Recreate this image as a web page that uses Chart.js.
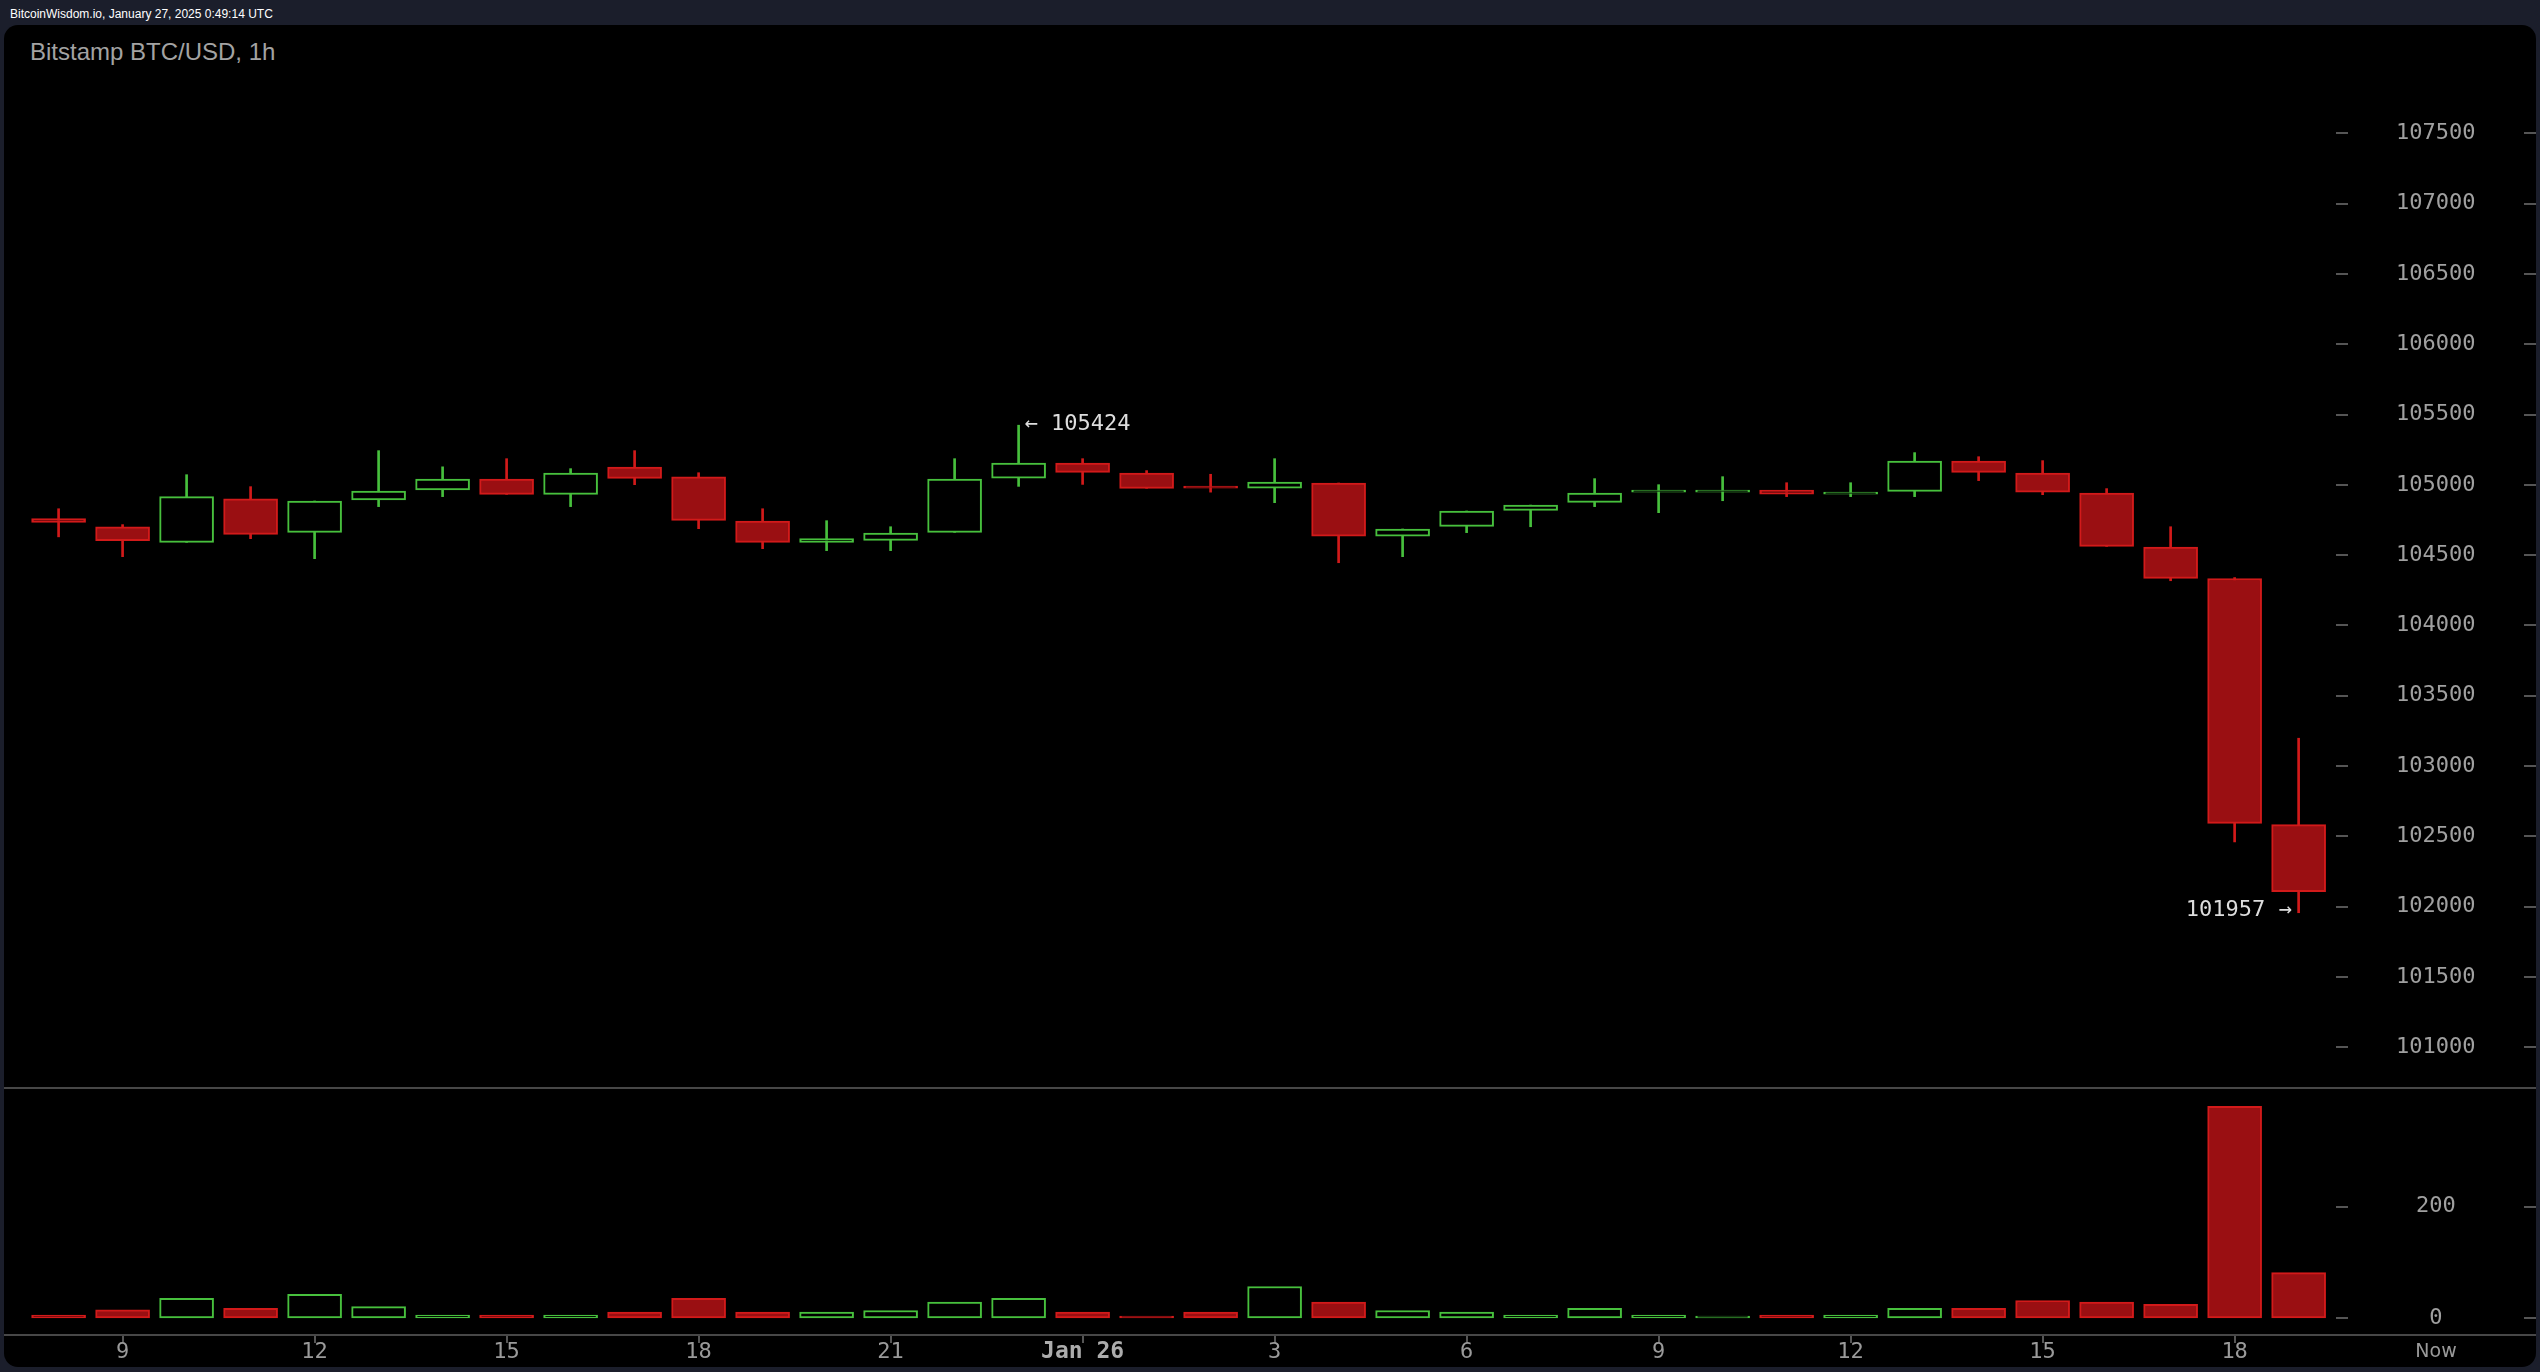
<!DOCTYPE html>
<html>
<head>
<meta charset="utf-8">
<title>Bitstamp BTC/USD, 1h</title>
<script src="https://cdn.jsdelivr.net/npm/chart.js@4.4.1/dist/chart.umd.min.js"></script>
<style>
	html, body { margin: 0; padding: 0; }
	body { width: 2540px; height: 1372px; background: #1b1e2b; position: relative; overflow: hidden; font-family: 'Liberation Sans', Arial, sans-serif; }
	#stamp { position: absolute; left: 10px; top: 8px; font-size: 12px; line-height: 12px; color: #fff; }
	#panel { position: absolute; left: 4px; top: 25px; width: 2532px; height: 1342px; background: #000; border-radius: 14px; }
	#title { position: absolute; left: 30px; top: 40px; font-size: 24px; line-height: 24px; color: #a3a3a3; }
	#wrap { position: absolute; left: 0; top: 0; width: 2540px; height: 1372px; }
</style>
</head>
<body>
<div id="stamp">BitcoinWisdom.io, January 27, 2025 0:49:14 UTC</div>
<div id="panel"></div>
<div id="title">Bitstamp BTC/USD, 1h</div>
<div id="wrap"><canvas id="btcChart"></canvas></div>
<script>
// hours relative to Jan 26 00:00 (UTC), one candle per hour
const hours = [-16, -15, -14, -13, -12, -11, -10, -9, -8, -7, -6, -5, -4, -3, -2, -1,
	0, 1, 2, 3, 4, 5, 6, 7, 8, 9, 10, 11, 12, 13, 14, 15, 16, 17, 18, 19];

const opens = [104760, 104702, 104591, 104901, 104662, 104892, 104963, 105041, 104932, 105127, 105056, 104743,
	104590, 104605, 104662, 105048, 105155, 105084, 104991, 104977, 105013, 104634, 104705, 104818,
	104875, 104948, 104948, 104962, 104934, 104953, 105169, 105084, 104942, 104557, 104334, 102583];
const highs = [104830, 104717, 105072, 104987, 104885, 105243, 105128, 105186, 105115, 105243, 105086, 104830,
	104745, 104702, 105186, 105424, 105186, 105101, 105075, 105186, 105013, 104686, 104814, 104856,
	105044, 105001, 105058, 105015, 105015, 105229, 105200, 105172, 104973, 104702, 104340, 103198];
const lows = [104630, 104489, 104591, 104617, 104475, 104845, 104916, 104932, 104845, 105001, 104688, 104546,
	104532, 104532, 104662, 104989, 105003, 104975, 104948, 104873, 104446, 104489, 104660, 104702,
	104845, 104802, 104887, 104916, 104916, 104916, 105030, 104930, 104562, 104318, 102461, 101957];
const closes = [104732, 104603, 104916, 104648, 104885, 104956, 105041, 104932, 105084, 105046, 104747, 104591,
	104618, 104657, 105041, 105155, 105089, 104975, 104977, 105019, 104634, 104686, 104814, 104856,
	104942, 104962, 104962, 104934, 104948, 105169, 105089, 104947, 104562, 104335, 102592, 102107];
const volumes = [6, 15, 36, 18, 43, 21, 6, 6, 6, 11, 36, 11,
	11, 14, 29, 36, 11, 4, 11, 57, 29, 14, 11, 6,
	18, 6, 4, 6, 6, 18, 18, 32, 29, 25, 380, 82];

const priceTicks = [101000, 101500, 102000, 102500, 103000, 103500, 104000, 104500, 105000, 105500, 106000, 106500, 107000, 107500];
const volumeTicks = [0, 200];
const hourTicks = [-15, -12, -9, -6, -3, 0, 3, 6, 9, 12, 15, 18];
const hourLabels = ['9', '12', '15', '18', '21', 'Jan 26', '3', '6', '9', '12', '15', '18'];

const GREEN = '#47c03d';
const RED = '#d21a1a';
const RED_FILL = '#9a0f12';
const MONO = 'DejaVu Sans Mono';

const rising = closes.map((c, i) => c >= opens[i]);
const lineColors = rising.map(r => r ? GREEN : RED);
const fillColors = rising.map(r => r ? '#000000' : RED_FILL);

const bodyData = hours.map((h, i) => ({ x: h, y: [opens[i], closes[i]] }));
const wickData = hours.map((h, i) => ({ x: h, y: [lows[i], highs[i]] }));
const volumeData = hours.map((h, i) => ({ x: h, y: volumes[i] }));

// separators, axis dashes, "Now" and the high / low markers
const panelDecor = {
	id: 'panelDecor',
	afterDraw(chart) {
		const { ctx, scales } = chart;
		const x = scales.x, price = scales.y, vol = scales.v;
		ctx.save();

		ctx.strokeStyle = '#474747';
		ctx.lineWidth = 2;
		[vol.top, vol.bottom].forEach(yy => {
			ctx.beginPath();
			ctx.moveTo(4, yy);
			ctx.lineTo(2536, yy);
			ctx.stroke();
		});

		ctx.strokeStyle = '#555555';
		[price, vol].forEach(s => {
			s.ticks.forEach(t => {
				const yy = Math.round(s.getPixelForValue(t.value));
				ctx.beginPath();
				ctx.moveTo(s.left, yy);
				ctx.lineTo(s.left + 12, yy);
				ctx.moveTo(s.right - 12, yy);
				ctx.lineTo(s.right, yy);
				ctx.stroke();
			});
		});

		ctx.fillStyle = '#9a9a9a';
		ctx.font = '19px "DejaVu Sans"';
		ctx.textAlign = 'center';
		ctx.textBaseline = 'middle';
		ctx.fillText('Now', (price.left + price.right) / 2, 1352);

		let hi = 0, lo = 0;
		highs.forEach((v, i) => { if (v > highs[hi]) hi = i; });
		lows.forEach((v, i) => { if (v < lows[lo]) lo = i; });

		ctx.fillStyle = '#dddddd';
		ctx.font = '22px "' + MONO + '"';
		ctx.textAlign = 'left';
		ctx.fillText('\u2190 ' + highs[hi], x.getPixelForValue(hours[hi]) + 6, price.getPixelForValue(highs[hi]) - 1);
		ctx.textAlign = 'right';
		ctx.fillText(lows[lo] + ' \u2192', x.getPixelForValue(hours[lo]) - 7, price.getPixelForValue(lows[lo]) - 2);

		ctx.restore();
	}
};

// labels are pushed into the middle of the axis strip by an invisible tick mark
const hiddenTicks = len => ({ display: true, drawOnChartArea: false, drawTicks: true, tickLength: len, color: 'rgba(0,0,0,0)' });

document.addEventListener('DOMContentLoaded', () => {
	const canvas = document.getElementById('btcChart');

	new Chart(canvas, {
		type: 'bar',
		data: {
			datasets: [
				{
					label: 'Body',
					data: bodyData,
					yAxisID: 'y',
					order: 0,
					grouped: false,
					barThickness: 54,
					maxBarThickness: 54,
					backgroundColor: fillColors,
					borderColor: lineColors,
					borderWidth: 2,
					borderSkipped: false
				},
				{
					label: 'Wick',
					data: wickData,
					yAxisID: 'y',
					order: 1,
					grouped: false,
					barThickness: 2,
					maxBarThickness: 2,
					backgroundColor: lineColors,
					borderWidth: 0
				},
				{
					label: 'Volume',
					data: volumeData,
					yAxisID: 'v',
					order: 2,
					grouped: false,
					barThickness: 54,
					maxBarThickness: 54,
					backgroundColor: fillColors,
					borderColor: lineColors,
					borderWidth: 2,
					borderSkipped: false
				}
			]
		},
		options: {
			responsive: true,
			maintainAspectRatio: false,
			animation: false,
			devicePixelRatio: 1,
			events: [],
			layout: { autoPadding: false, padding: { left: 4, top: 25, right: 4, bottom: 0 } },
			plugins: {
				legend: { display: false },
				tooltip: { enabled: false }
			},
			scales: {
				x: {
					type: 'linear',
					min: -16.853,
					max: 19.584,
					offset: false,
					grid: { display: true, offset: false, drawOnChartArea: false, drawTicks: true, tickLength: 8, color: '#555555', lineWidth: 2 },
					border: { display: false },
					afterBuildTicks: axis => { axis.ticks = hourTicks.map(v => ({ value: v })); },
					afterFit: axis => { axis.height = 37; },
					ticks: {
						autoSkip: false,
						maxRotation: 0,
						padding: -2,
						color: ctx => (ctx.tick && ctx.tick.value === 0) ? '#acacac' : '#9a9a9a',
						font: ctx => (ctx.tick && ctx.tick.value === 0)
							? { family: MONO, size: 23, weight: 'bold', lineHeight: 1 }
							: { family: MONO, size: 22, lineHeight: 1 },
						callback: v => hourLabels[hourTicks.indexOf(v)]
					}
				},
				y: {
					type: 'linear',
					axis: 'y',
					position: 'right',
					stack: 'pane',
					stackWeight: 1063,
					min: 100710.6,
					max: 108270,
					grid: hiddenTicks(60),
					border: { display: false },
					afterBuildTicks: axis => { axis.ticks = priceTicks.map(v => ({ value: v })); },
					afterFit: axis => { axis.width = 200; },
					ticks: {
						crossAlign: 'center',
						padding: 0,
						color: '#a0a0a0',
						font: { family: MONO, size: 22, lineHeight: 1 },
						callback: v => String(v)
					}
				},
				v: {
					type: 'linear',
					axis: 'y',
					position: 'right',
					stack: 'pane',
					stackWeight: 247,
					min: -29.9,
					max: 412.7,
					grid: hiddenTicks(80),
					border: { display: false },
					afterBuildTicks: axis => { axis.ticks = volumeTicks.map(v => ({ value: v })); },
					afterFit: axis => { axis.width = 200; },
					ticks: {
						crossAlign: 'center',
						padding: 0,
						color: '#a0a0a0',
						font: { family: MONO, size: 22, lineHeight: 1 },
						callback: v => String(v)
					}
				}
			}
		},
		plugins: [panelDecor]
	});
});
</script>
</body>
</html>
